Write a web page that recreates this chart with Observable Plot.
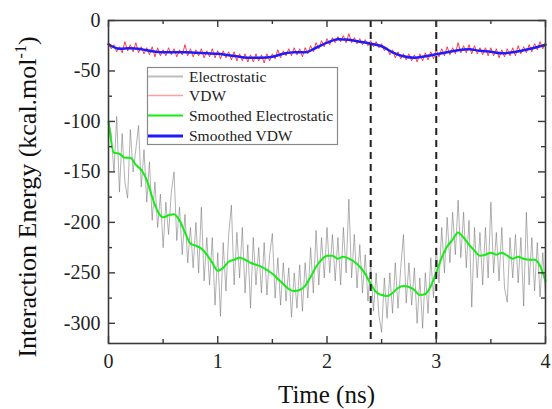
<!DOCTYPE html>
<html><head><meta charset="utf-8">
<script src="https://cdn.jsdelivr.net/npm/d3@7"></script>
<script src="https://cdn.jsdelivr.net/npm/@observablehq/plot@0.6"></script>
<style>
body{margin:0;background:#fff;}
#wrap{position:relative;width:552px;height:409px;}
#wrap svg text{font-family:"Liberation Serif","DejaVu Serif",serif !important;}
</style></head><body><div id="wrap"></div>
<script>
// sampling steps (ns)
const rawStep = 0.025;
const smoothStep = 0.05;
const vdwSmoothStep = 0.1;

// Raw electrostatic interaction energy (kcal/mol), every 0.025 ns
const elecRaw = [-100,-112,-150,-95,-170,-112,-160,-176,-108,-150,
-128,-104,-165,-128,-180,-140,-198,-160,-205,-172,
-225,-180,-212,-170,-150,-218,-185,-232,-192,-240,
-205,-245,-200,-250,-185,-258,-215,-262,-215,-282,
-230,-293,-220,-268,-212,-183,-262,-210,-255,-205,
-270,-222,-285,-215,-262,-225,-270,-220,-272,-232,
-211,-275,-235,-282,-240,-278,-245,-294,-250,-285,
-242,-288,-240,-275,-225,-270,-208,-262,-215,-255,
-205,-250,-212,-258,-215,-262,-205,-250,-177,-255,
-212,-265,-222,-270,-232,-278,-240,-288,-250,-292,
-309,-255,-295,-250,-290,-240,-285,-245,-212,-280,
-240,-282,-245,-300,-255,-305,-250,-290,-235,-275,
-225,-260,-205,-250,-195,-240,-190,-232,-178,-235,
-190,-245,-198,-284,-205,-255,-210,-262,-205,-255,
-180,-250,-210,-258,-205,-265,-279,-215,-255,-212,
-260,-215,-283,-190,-262,-215,-268,-220,-274,-230,-270];

// Raw VDW interaction energy (kcal/mol), every 0.025 ns
const vdwRaw = [-22,-28,-24,-31,-26,-32,-21,-30,-24,-31,
-22,-32,-26,-33,-27,-34,-26,-36,-27,-35,
-29,-35,-27,-34,-28,-36,-29,-34,-24,-35,
-28,-36,-29,-35,-28,-37,-30,-36,-28,-37,
-30,-38,-30,-37,-31,-39,-31,-40,-33,-40,
-33,-41,-34,-41,-33,-40,-34,-42,-33,-40,
-33,-38,-29,-37,-30,-35,-28,-35,-27,-34,
-28,-36,-27,-33,-25,-31,-22,-28,-20,-26,
-18,-24,-17,-22,-16,-21,-15,-22,-13,-22,
-17,-23,-18,-24,-19,-25,-20,-26,-21,-27,
-23,-30,-27,-34,-29,-37,-31,-38,-33,-39,
-33,-40,-34,-41,-33,-40,-32,-39,-31,-38,
-29,-36,-28,-35,-26,-34,-27,-33,-22,-32,
-25,-32,-24,-33,-25,-33,-27,-34,-27,-35,
-27,-35,-28,-37,-29,-36,-28,-35,-27,-35,
-25,-33,-26,-32,-24,-31,-23,-29,-21,-28,-22];

// Smoothed electrostatic, every 0.05 ns
const elecSmooth = [-100,-131,-132,-136,-136,-143,-148,-158,-175,-189,
-195,-193,-192,-198,-210,-221,-223,-226,-232,-240,
-248,-245,-239,-237,-235,-237,-240,-242,-244,-247,
-251,-256,-261,-266,-268,-267,-263,-254,-244,-237,
-233,-233,-236,-234,-236,-239,-244,-251,-261,-269,
-272,-273,-270,-265,-263,-264,-267,-272,-271,-263,
-250,-235,-224,-217,-210,-215,-222,-228,-233,-232,
-230,-232,-230,-233,-236,-234,-236,-237,-237,-243,-258];

// Smoothed VDW, every 0.1 ns
const vdwSmooth = [-23.5,-28,-27.5,-28.5,-30.5,-31.5,-31.5,-31.5,-32,-32.5,
-33,-34.5,-36,-37,-37,-36,-33,-31.5,-31.5,-27,
-22,-18.5,-19,-21,-23,-25.5,-31.5,-35.5,-37,-35.5,
-33.5,-31.5,-29.5,-28.5,-30,-31,-32.5,-31.5,-29.5,-27,-24];

const markers = [2.4, 3.0];
const xMajor = [0, 1, 2, 3, 4];
const xMinor = [0.5, 1.5, 2.5, 3.5];
const yMajor = [0, -50, -100, -150, -200, -250, -300];
const yMinor = [-25, -75, -125, -175, -225, -275];

const legendLabels = ["Electrostatic", "VDW", "Smoothed Electrostatic", "Smoothed VDW"];

const W = 552, H = 409, mL = 108, mR = 7, mT = 20, mB = 66;
const fh = H - mT - mB, fw = W - mL - mR;

const elecData = elecRaw.map((v, i) => ({t: i * rawStep, v}));
const vdwData = vdwRaw.map((v, i) => ({t: i * rawStep, v}));
const elecSData = elecSmooth.map((v, i) => ({t: i * smoothStep, v}));
const vdwSData = vdwSmooth.map((v, i) => ({t: i * vdwSmoothStep, v}));

const serif = '"Liberation Serif", "DejaVu Serif", serif';
const axisCol = "#3a3a3a";
const chart = Plot.plot({
  width: W, height: H,
  marginLeft: mL, marginRight: mR, marginTop: mT, marginBottom: mB,
  style: {fontFamily: serif, fontSize: "20px", color: "#222", background: "#fff"},
  x: {domain: [0, 4]},
  y: {domain: [-320, 0]},
  marks: [
    Plot.lineY(elecData, {x: "t", y: "v", stroke: "#707070", strokeWidth: 0.9, strokeOpacity: 0.6}),
    Plot.lineY(vdwData, {x: "t", y: "v", stroke: "#ff2020", strokeWidth: 1, strokeOpacity: 0.85}),
    Plot.lineY(elecSData, {x: "t", y: "v", stroke: "#14ec14", strokeWidth: 2, curve: "monotone-x"}),
    Plot.lineY(vdwSData, {x: "t", y: "v", stroke: "#1c1cff", strokeWidth: 2.5, curve: "monotone-x"}),
    Plot.ruleX(markers, {stroke: "#222", strokeWidth: 2, strokeDasharray: "7,5"}),
    Plot.frame({stroke: axisCol, strokeWidth: 1.6}),
    Plot.tickX(xMajor, {insetTop: fh - 7, stroke: axisCol, strokeWidth: 1.4}),
    Plot.tickX(xMajor, {insetBottom: fh - 7, stroke: axisCol, strokeWidth: 1.4}),
    Plot.tickX(xMinor, {insetTop: fh - 4, stroke: axisCol, strokeWidth: 1.4}),
    Plot.tickX(xMinor, {insetBottom: fh - 4, stroke: axisCol, strokeWidth: 1.4}),
    Plot.tickY(yMajor, {insetRight: fw - 7, stroke: axisCol, strokeWidth: 1.4}),
    Plot.tickY(yMajor, {insetLeft: fw - 7, stroke: axisCol, strokeWidth: 1.4}),
    Plot.tickY(yMinor, {insetRight: fw - 4, stroke: axisCol, strokeWidth: 1.4}),
    Plot.tickY(yMinor, {insetLeft: fw - 4, stroke: axisCol, strokeWidth: 1.4}),
    Plot.axisX({ticks: xMajor, tickSize: 0, tickPadding: 10, tickFormat: d => String(d), label: null, fontSize: 20}),
    Plot.axisY({ticks: yMajor, tickSize: 0, tickPadding: 8, tickFormat: d => String(d), label: null, fontSize: 20})
  ]
});
document.getElementById("wrap").appendChild(chart);

const svg = d3.select(chart);

// axis titles
svg.append("text")
  .attr("x", mL + fw / 2).attr("y", 403)
  .attr("text-anchor", "middle")
  .style("font-family", serif).attr("font-size", 25).attr("fill", "#111")
  .text("Time (ns)");

const yt = svg.append("text")
  .attr("transform", `translate(36,${197}) rotate(-90)`)
  .attr("text-anchor", "middle")
  .style("font-family", serif).attr("font-size", 26).attr("fill", "#111");
yt.append("tspan").text("Interaction Energy (kcal.mol");
yt.append("tspan").attr("dy", -10).attr("font-size", 16).text("-1");
yt.append("tspan").attr("dy", 10).text(")");

// legend box
const lg = svg.append("g").attr("transform", "translate(147,67)").attr("text-anchor", "start");
lg.append("rect").attr("x", 0.5).attr("y", 0.5).attr("width", 190).attr("height", 77)
  .attr("fill", "#fff").attr("stroke", "#8a8a8a").attr("stroke-width", 1.2);
const legendStyles = [
  {stroke: "#bdbdbd", w: 2},
  {stroke: "#ffa0a0", w: 1.5},
  {stroke: "#14ec14", w: 2},
  {stroke: "#1c1cff", w: 2.8}
];
const rowY = [9.5, 28.5, 48.5, 69];
legendLabels.forEach((lab, i) => {
  lg.append("line").attr("x1", 1).attr("x2", 36).attr("y1", rowY[i]).attr("y2", rowY[i])
    .attr("stroke", legendStyles[i].stroke).attr("stroke-width", legendStyles[i].w);
  lg.append("text").attr("x", 42).attr("y", rowY[i] + 5).attr("text-anchor", "start")
    .style("font-family", serif).attr("font-size", 15.5).attr("fill", "#222").text(lab);
});
</script></body></html>
